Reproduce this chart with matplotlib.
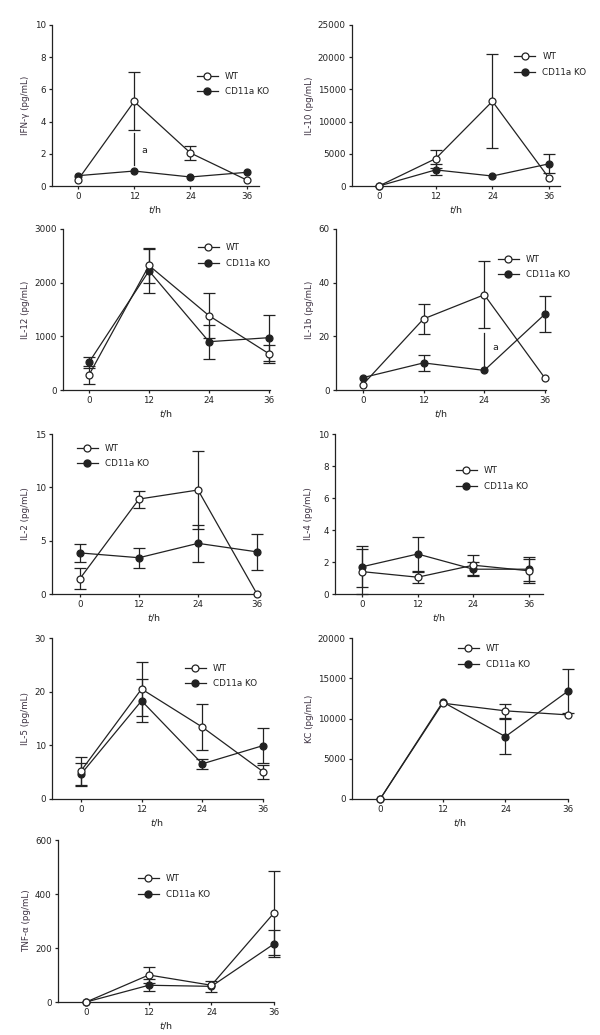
import matplotlib
matplotlib.use("Agg")
import matplotlib.pyplot as plt
from matplotlib.lines import Line2D

plt.rcParams["font.family"] = ["DejaVu Sans"]
plt.rcParams["mathtext.fontset"] = "dejavusans"

INK = "#222222"
LABEL = "#3b3040"

hours = [0, 12, 24, 36]

# ---- values (mean, error) ----
ifng_wt = [0.37, 5.25, 2.05, 0.37]
ifng_wt_err = [0, 1.8, 0.45, 0]
ifng_ko = [0.64, 0.93, 0.56, 0.85]
ifng_ko_err = [0, 0, 0, 0]

il10_wt = [0, 4250, 13150, 1200]
il10_wt_err = [0, 1400, 7300, 0]
il10_ko = [0, 2500, 1550, 3450]
il10_ko_err = [0, 850, 0, 1500]

il12_wt = [280, 2320, 1385, 675]
il12_wt_err = [160, 320, 420, 165]
il12_ko = [515, 2220, 900, 975]
il12_ko_err = [105, 410, 320, 430]

il1b_wt = [2.0, 26.5, 35.5, 4.4]
il1b_wt_err = [0, 5.5, 12.5, 0]
il1b_ko = [4.6, 10.1, 7.3, 28.3]
il1b_ko_err = [0, 3.0, 0, 6.8]

il2_wt = [1.45, 8.9, 9.75, 0.0]
il2_wt_err = [0.95, 0.8, 3.7, 0]
il2_ko = [3.85, 3.4, 4.75, 3.95]
il2_ko_err = [0.85, 0.95, 1.75, 1.7]

il4_wt = [1.4, 1.05, 1.8, 1.45]
il4_wt_err = [1.4, 0.35, 0.62, 0.75]
il4_ko = [1.7, 2.5, 1.55, 1.55]
il4_ko_err = [1.28, 1.08, 0.45, 0.75]

il5_wt = [5.2, 20.5, 13.4, 5.1]
il5_wt_err = [2.6, 5.1, 4.3, 1.3]
il5_ko = [4.6, 18.3, 6.55, 9.95]
il5_ko_err = [2.1, 4.0, 0.9, 3.3]

kc_wt = [0, 11900, 10950, 10450]
kc_wt_err = [0, 0, 900, 0]
kc_ko = [0, 12050, 7750, 13400]
kc_ko_err = [0, 0, 2150, 2700]

tnf_wt = [0, 100, 62, 330]
tnf_wt_err = [0, 28, 0, 157]
tnf_ko = [0, 62, 58, 215]
tnf_ko_err = [0, 22, 20, 50]

# ---- layout in pixels: (left, right, top, bottom), x-limits, y-max, y-step,
#      legend anchor (axes fraction) ----
panels = [
    dict(box=(52, 259, 25, 186), xlim=(-5.5, 38.6), ymax=10, ystep=2,
         wt=(ifng_wt, ifng_wt_err), ko=(ifng_ko, ifng_ko_err),
         ylabel="IFN-γ (pg/mL)", leg=(0.70, 0.71), sig=(12, 1.3, 3.3, 13.6, 2.2)),
    dict(box=(352, 560, 25, 186), xlim=(-5.7, 38.3), ymax=25000, ystep=5000,
         wt=(il10_wt, il10_wt_err), ko=(il10_ko, il10_ko_err),
         ylabel="IL-10 (pg/mL)", leg=(0.78, 0.83)),
    dict(box=(63, 270, 229, 390), xlim=(-5.2, 36.2), ymax=3000, ystep=1000,
         wt=(il12_wt, il12_wt_err), ko=(il12_ko, il12_ko_err),
         ylabel="IL-12 (pg/mL)", leg=(0.65, 0.91)),
    dict(box=(336, 546, 229, 390), xlim=(-5.3, 36.2), ymax=60, ystep=20,
         wt=(il1b_wt, il1b_wt_err), ko=(il1b_ko, il1b_ko_err),
         ylabel="IL-1b (pg/mL)", leg=(0.77, 0.84), sig=(24, 9.0, 21.2, 25.7, 15.8)),
    dict(box=(52, 257, 434, 594), xlim=(-5.7, 36.0), ymax=15, ystep=5,
         wt=(il2_wt, il2_wt_err), ko=(il2_ko, il2_ko_err),
         ylabel="IL-2 (pg/mL)", leg=(0.12, 0.94)),
    dict(box=(335, 543, 434, 594), xlim=(-5.8, 39.0), ymax=10, ystep=2,
         wt=(il4_wt, il4_wt_err), ko=(il4_ko, il4_ko_err),
         ylabel="IL-4 (pg/mL)", leg=(0.58, 0.80)),
    dict(box=(52, 263, 638, 799), xlim=(-5.7, 36.0), ymax=30, ystep=10,
         wt=(il5_wt, il5_wt_err), ko=(il5_ko, il5_ko_err),
         ylabel="IL-5 (pg/mL)", leg=(0.63, 0.84)),
    dict(box=(352, 568, 638, 799), xlim=(-5.4, 36.0), ymax=20000, ystep=5000,
         wt=(kc_wt, kc_wt_err), ko=(kc_ko, kc_ko_err),
         ylabel="KC (pg/mL)", leg=(0.49, 0.96)),
    dict(box=(58, 274, 840, 1002), xlim=(-5.4, 36.0), ymax=600, ystep=200,
         wt=(tnf_wt, tnf_wt_err), ko=(tnf_ko, tnf_ko_err),
         ylabel="TNF-α (pg/mL)", leg=(0.37, 0.79)),
]

W, H = 600, 1035
fig = plt.figure(figsize=(W / 100, H / 100), dpi=100)


def series(ax, y, err, filled, z):
    # error bars only where an error was drawn in the source
    xe = [h for h, e in zip(hours, err) if e > 0]
    ye = [v for v, e in zip(y, err) if e > 0]
    ee = [e for e in err if e > 0]
    if ee:
        ax.errorbar(xe, ye, yerr=ee, fmt="none", ecolor=INK, elinewidth=0.9,
                    capsize=4.5, capthick=0.9, clip_on=False, zorder=z)
    ax.plot(hours, y, color=INK, lw=0.9, marker="o", ms=5,
            mfc=(INK if filled else "white"), mec=INK, mew=0.9,
            clip_on=False, zorder=z + 0.5)


for p in panels:
    L, R, T, B = p["box"]
    ax = fig.add_axes([L / W, 1 - B / H, (R - L) / W, (B - T) / H])
    ax.set_xlim(*p["xlim"])
    ax.set_ylim(0, p["ymax"])
    for s in ("top", "right"):
        ax.spines[s].set_visible(False)
    for s in ("left", "bottom"):
        ax.spines[s].set_linewidth(0.9)
        ax.spines[s].set_color(INK)
    ax.set_xticks(hours)
    ax.set_yticks(list(range(0, p["ymax"] + 1, p["ystep"])))
    ax.tick_params(labelsize=6.3, length=2.5, width=0.9, colors=INK, pad=2)

    wt, wte = p["wt"]
    ko, koe = p["ko"]
    series(ax, ko, koe, True, 3)
    series(ax, wt, wte, False, 4)

    if "sig" in p:
        xs, y0, y1, xt, yt_ = p["sig"]
        ax.plot([xs, xs], [y0, y1], color=INK, lw=0.9)
        ax.text(xt, yt_, "a", fontsize=6.8, color=INK, va="center", ha="left")

    ax.set_ylabel(p["ylabel"], fontsize=6.3, color=LABEL, labelpad=3)
    ax.set_xlabel(r"$\it{t}$/h", fontsize=6.8, color=INK, labelpad=2)

    handles = [
        Line2D([], [], color=INK, lw=0.9, marker="o", ms=5, mfc="white",
               mec=INK, mew=0.9),
        Line2D([], [], color=INK, lw=0.9, marker="o", ms=5, mfc=INK, mec=INK),
    ]
    ax.legend(handles, ["WT", "CD11a KO"], loc="upper left",
              bbox_to_anchor=p["leg"], frameon=False, fontsize=6.3,
              handlelength=2.4, handletextpad=0.8, labelspacing=0.75,
              borderpad=0, borderaxespad=0, labelcolor=INK)

fig.savefig("out.png", dpi=100, facecolor="white")
